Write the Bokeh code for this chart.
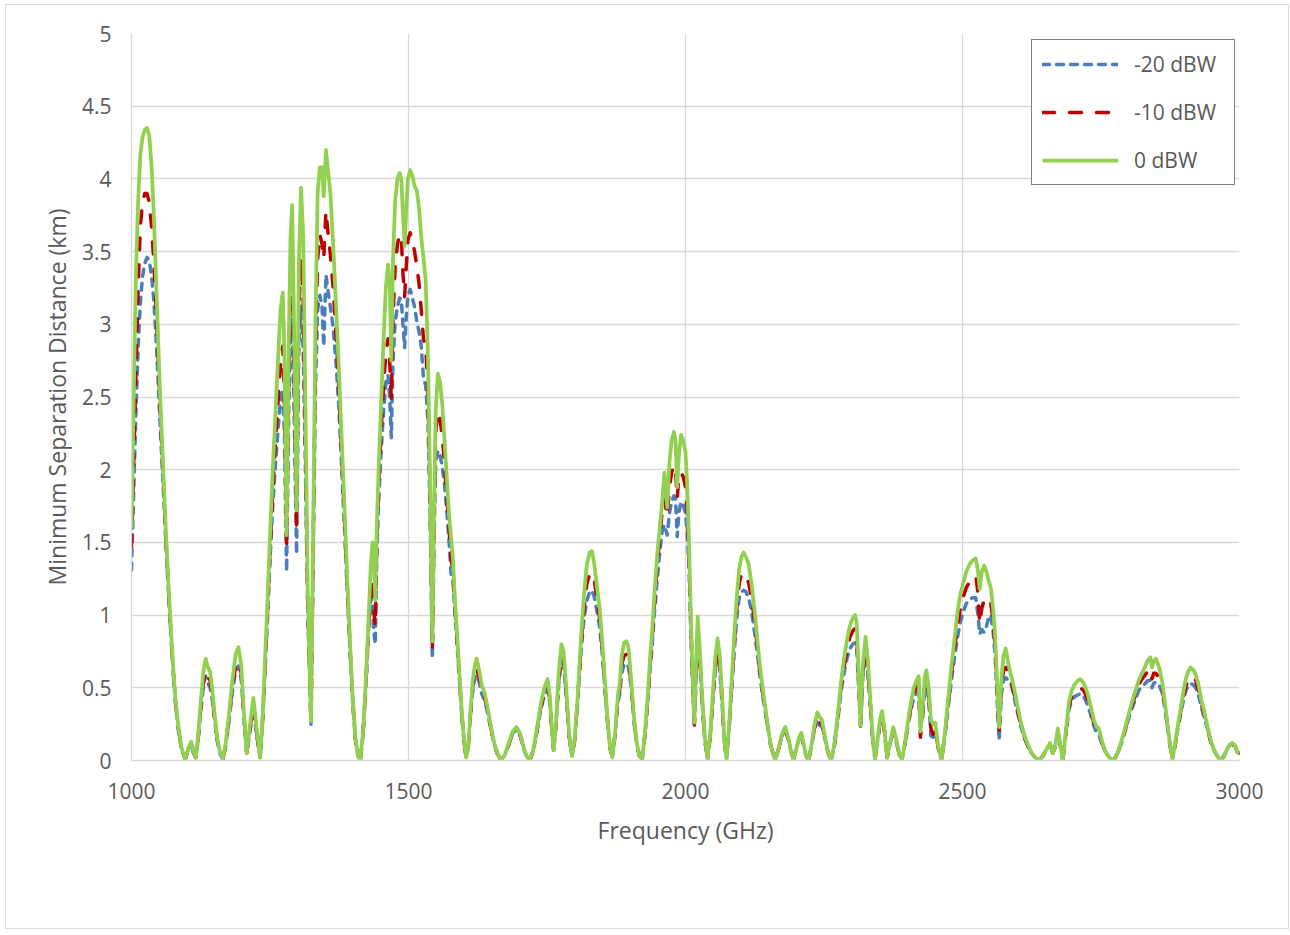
from bokeh.plotting import figure
from bokeh.models import ColumnDataSource, Range1d, FixedTicker, Legend, LegendItem
from bokeh.embed import file_html
from bokeh.resources import INLINE

# Frequency sweep (GHz)
freq_ghz = [
    1000, 1004, 1008, 1012, 1016, 1020, 1024, 1028, 1032, 1036,
    1040, 1044, 1048, 1052, 1056, 1060, 1064, 1068, 1072, 1076,
    1080, 1085, 1090, 1097, 1103, 1108, 1112, 1116, 1120, 1125,
    1130, 1134, 1138, 1142, 1146, 1150, 1155, 1160, 1165, 1170,
    1176, 1182, 1188, 1193, 1198, 1203, 1208, 1214, 1220, 1226,
    1232,
    1236, 1240, 1245, 1250, 1255, 1260, 1265, 1269, 1273, 1276,
    1280, 1284, 1287, 1290, 1293, 1298, 1302, 1306, 1310, 1314,
    1318, 1324, 1328, 1332, 1336, 1340, 1344, 1347, 1351, 1355,
    1359, 1364, 1369, 1374, 1379, 1384, 1389, 1394, 1399, 1404,
    1409, 1413,
    1418, 1423, 1428, 1432, 1435, 1437, 1440, 1443, 1447, 1451,
    1455, 1459, 1463, 1466, 1469, 1472, 1476, 1480, 1484, 1487,
    1490, 1493, 1496, 1499, 1503, 1507, 1511, 1515, 1519, 1523,
    1527, 1531, 1535, 1539, 1543, 1546, 1549, 1553, 1557, 1561,
    1565, 1569, 1573, 1577, 1580, 1584, 1588, 1592, 1596, 1600,
    1604, 1608, 1612, 1616, 1620, 1623, 1627, 1632, 1637, 1642,
    1648, 1654, 1660, 1667,
    1674, 1681, 1688, 1695, 1701, 1707, 1713, 1719, 1725, 1731,
    1738, 1745, 1751, 1755, 1759, 1762, 1766, 1771, 1776, 1780,
    1785, 1790, 1795, 1800, 1805, 1810, 1813, 1817, 1822, 1827,
    1831, 1835, 1840, 1845, 1850, 1855, 1860, 1864, 1868, 1873,
    1878, 1881, 1885, 1889, 1893, 1897, 1902, 1907, 1912, 1917,
    1922,
    1927, 1932, 1936, 1940, 1944, 1949, 1954, 1958, 1962, 1967,
    1971, 1975, 1979, 1982, 1985, 1988, 1992, 1996, 2000, 2003,
    2006, 2009, 2012, 2016, 2019, 2022, 2026, 2030, 2035, 2040,
    2045, 2050, 2054, 2058, 2062, 2066, 2070, 2074, 2079, 2084,
    2089, 2093, 2097, 2101, 2105, 2109, 2114, 2119, 2124, 2129,
    2134, 2140, 2147, 2154, 2162,
    2168, 2174, 2180, 2186, 2191, 2195, 2200, 2205, 2209, 2213,
    2217, 2222, 2228, 2233, 2238, 2242, 2246, 2251, 2257, 2263,
    2269, 2275, 2281, 2287, 2292, 2297, 2302, 2306, 2309, 2312,
    2316, 2320, 2325, 2329, 2334, 2338, 2342, 2347, 2351, 2355,
    2359, 2364, 2369, 2375, 2380, 2386, 2391, 2396, 2402, 2407,
    2412, 2417, 2421, 2424, 2428, 2432, 2435, 2439, 2443, 2447,
    2451, 2456, 2462,
    2468, 2474, 2480, 2486, 2491, 2496, 2501, 2507, 2513, 2519,
    2524, 2528, 2531, 2535, 2539, 2543, 2547, 2551, 2555, 2559,
    2563, 2566, 2570, 2574, 2578, 2583, 2588, 2593, 2598, 2605,
    2612, 2619, 2625, 2631, 2638, 2645, 2652, 2658, 2663, 2667,
    2672, 2676, 2681,
    2686, 2692, 2697, 2702, 2708, 2713, 2719, 2725, 2731, 2737,
    2741, 2746, 2752, 2758, 2765, 2773, 2781, 2788, 2794, 2800,
    2806, 2812, 2818, 2824, 2830, 2835, 2839, 2842, 2845, 2849,
    2855, 2861, 2866, 2870, 2875, 2879, 2884, 2889, 2894, 2899,
    2903, 2908, 2912, 2917, 2921, 2926, 2931, 2936, 2942, 2948,
    2954, 2960, 2966, 2972, 2978, 2983, 2987, 2992, 2996, 3000,
]

# Minimum separation distance (km) at 0 dBW
dist_0dbw = [
    1.60, 2.50, 3.35, 3.85, 4.17, 4.29, 4.34, 4.35, 4.30, 4.10,
    3.78, 3.35, 2.90, 2.48, 2.12, 1.75, 1.42, 1.12, 0.85, 0.60,
    0.40, 0.22, 0.09, 0.01, 0.09, 0.13, 0.06, 0.02, 0.16, 0.40,
    0.62, 0.70, 0.64, 0.61, 0.48, 0.32, 0.15, 0.05, 0.01, 0.12,
    0.32, 0.55, 0.73, 0.78, 0.66, 0.32, 0.05, 0.25, 0.43, 0.22,
    0.02,
    0.25, 0.60, 1.05, 1.55, 2.00, 2.40, 2.80, 3.10, 3.22, 2.80,
    1.55, 2.90, 3.60, 3.82, 3.10, 1.72, 3.40, 3.94, 3.60, 2.40,
    1.20, 0.27, 1.60, 3.00, 3.90, 4.08, 4.08, 3.88, 4.20, 4.05,
    3.90, 3.55, 3.15, 2.72, 2.25, 1.78, 1.30, 0.85, 0.45, 0.16,
    0.03, 0.00,
    0.20, 0.55, 0.98, 1.35, 1.50, 1.48, 1.10, 1.65, 2.10, 2.50,
    2.89, 3.25, 3.41, 3.30, 2.75, 3.45, 3.85, 4.00, 4.04, 4.00,
    3.75, 3.54, 3.80, 4.00, 4.06, 4.02, 3.95, 3.92, 3.80, 3.60,
    3.46, 3.30, 2.80, 1.90, 0.82, 1.70, 2.40, 2.66, 2.60, 2.45,
    2.20, 1.95, 1.70, 1.52, 1.40, 1.10, 0.85, 0.60, 0.35, 0.15,
    0.02, 0.10, 0.35, 0.55, 0.66, 0.70, 0.63, 0.52, 0.47, 0.38,
    0.25, 0.13, 0.05, 0.00,
    0.04, 0.12, 0.20, 0.23, 0.19, 0.10, 0.03, 0.00, 0.07, 0.20,
    0.37, 0.50, 0.56, 0.45, 0.20, 0.07, 0.25, 0.60, 0.80, 0.75,
    0.48, 0.18, 0.03, 0.15, 0.42, 0.75, 0.94, 1.15, 1.35, 1.43,
    1.44, 1.36, 1.20, 1.05, 0.80, 0.52, 0.25, 0.08, 0.02, 0.20,
    0.45, 0.52, 0.72, 0.81, 0.82, 0.78, 0.55, 0.30, 0.12, 0.03,
    0.01,
    0.20, 0.45, 0.70, 0.90, 1.15, 1.42, 1.62, 1.78, 1.98, 1.74,
    2.05, 2.20, 2.26, 2.20, 1.88, 2.10, 2.24, 2.20, 2.12, 1.90,
    1.55, 1.10, 0.70, 0.26, 0.65, 0.99, 0.75, 0.45, 0.15, 0.01,
    0.20, 0.50, 0.72, 0.84, 0.72, 0.45, 0.15, 0.01, 0.25, 0.60,
    0.92, 1.15, 1.32, 1.40, 1.43, 1.40, 1.35, 1.22, 1.05, 0.86,
    0.66, 0.48, 0.28, 0.10, 0.00,
    0.08, 0.18, 0.23, 0.15, 0.05, 0.01, 0.08, 0.16, 0.19, 0.12,
    0.04, 0.00, 0.12, 0.25, 0.33, 0.30, 0.28, 0.18, 0.06, 0.00,
    0.12, 0.32, 0.55, 0.72, 0.84, 0.93, 0.98, 1.00, 0.95, 0.65,
    0.24, 0.65, 0.85, 0.70, 0.40, 0.15, 0.01, 0.15, 0.28, 0.34,
    0.22, 0.02, 0.12, 0.23, 0.15, 0.04, 0.01, 0.12, 0.28, 0.40,
    0.50, 0.55, 0.58, 0.20, 0.35, 0.58, 0.62, 0.50, 0.28, 0.25,
    0.26, 0.10, 0.00,
    0.18, 0.42, 0.65, 0.85, 1.02, 1.14, 1.22, 1.30, 1.35, 1.38,
    1.39, 1.30, 1.18, 1.30, 1.34, 1.30, 1.24, 1.19, 1.05, 0.85,
    0.50, 0.23, 0.55, 0.72, 0.77, 0.66, 0.58, 0.50, 0.40, 0.27,
    0.17, 0.10, 0.05, 0.02, 0.00, 0.03, 0.08, 0.12, 0.05, 0.09,
    0.22, 0.12, 0.00,
    0.18, 0.40, 0.48, 0.52, 0.55, 0.56, 0.53, 0.47, 0.38, 0.28,
    0.24, 0.22, 0.13, 0.06, 0.02, 0.00, 0.06, 0.15, 0.23, 0.32,
    0.40, 0.48, 0.55, 0.60, 0.65, 0.69, 0.71, 0.64, 0.68, 0.70,
    0.64, 0.53, 0.38, 0.25, 0.10, 0.01, 0.12, 0.25, 0.36, 0.48,
    0.56, 0.62, 0.64, 0.62, 0.59, 0.52, 0.42, 0.34, 0.24, 0.14,
    0.07, 0.03, 0.00, 0.03, 0.08, 0.11, 0.12, 0.10, 0.06, 0.05,
]

# Minimum separation distance (km) at -10 dBW
dist_m10dbw = [
    1.47, 2.05, 2.65, 3.25, 3.68, 3.84, 3.90, 3.90, 3.84, 3.68,
    3.45, 3.15, 2.78, 2.40, 2.05, 1.70, 1.38, 1.09, 0.82, 0.58,
    0.38, 0.21, 0.09, 0.01, 0.08, 0.12, 0.06, 0.02, 0.14, 0.36,
    0.55, 0.62, 0.57, 0.55, 0.44, 0.29, 0.14, 0.05, 0.01, 0.11,
    0.29, 0.50, 0.65, 0.68, 0.60, 0.30, 0.05, 0.22, 0.38, 0.19,
    0.02,
    0.23, 0.56, 0.98, 1.45, 1.85, 2.20, 2.50, 2.72, 2.85, 2.50,
    1.48, 2.70, 3.25, 3.40, 2.80, 1.60, 3.10, 3.45, 3.15, 2.15,
    1.10, 0.25, 1.50, 2.80, 3.45, 3.62, 3.55, 3.45, 3.78, 3.62,
    3.48, 3.25, 2.95, 2.58, 2.15, 1.70, 1.25, 0.82, 0.43, 0.15,
    0.03, 0.00,
    0.19, 0.52, 0.93, 1.20, 1.25, 1.05, 0.92, 1.55, 1.98, 2.30,
    2.58, 2.80, 2.90, 2.75, 2.48, 3.05, 3.40, 3.55, 3.62, 3.60,
    3.35, 3.19, 3.40, 3.58, 3.63, 3.58, 3.50, 3.40, 3.28, 3.10,
    2.90, 2.85, 2.55, 1.80, 0.76, 1.60, 2.25, 2.40, 2.35, 2.22,
    2.05, 1.82, 1.60, 1.38, 1.32, 1.05, 0.81, 0.57, 0.33, 0.14,
    0.02, 0.10, 0.33, 0.51, 0.61, 0.63, 0.58, 0.49, 0.44, 0.36,
    0.24, 0.12, 0.05, 0.00,
    0.04, 0.11, 0.19, 0.22, 0.18, 0.10, 0.03, 0.00, 0.07, 0.19,
    0.35, 0.47, 0.52, 0.42, 0.19, 0.07, 0.24, 0.55, 0.73, 0.70,
    0.45, 0.17, 0.03, 0.14, 0.40, 0.70, 0.87, 1.05, 1.22, 1.28,
    1.29, 1.25, 1.12, 0.98, 0.76, 0.49, 0.24, 0.08, 0.02, 0.19,
    0.42, 0.48, 0.66, 0.72, 0.73, 0.70, 0.52, 0.28, 0.11, 0.03,
    0.01,
    0.19, 0.42, 0.65, 0.85, 1.08, 1.35, 1.55, 1.72, 1.80, 1.68,
    1.88, 1.98, 2.03, 2.02, 1.80, 1.95, 1.98, 1.95, 1.88, 1.72,
    1.45, 1.02, 0.65, 0.25, 0.60, 0.90, 0.70, 0.42, 0.14, 0.01,
    0.19, 0.46, 0.66, 0.76, 0.66, 0.42, 0.14, 0.01, 0.24, 0.56,
    0.86, 1.07, 1.22, 1.28, 1.29, 1.27, 1.22, 1.12, 0.98, 0.81,
    0.62, 0.45, 0.27, 0.10, 0.00,
    0.08, 0.17, 0.22, 0.14, 0.05, 0.01, 0.08, 0.15, 0.18, 0.11,
    0.04, 0.00, 0.11, 0.23, 0.30, 0.26, 0.25, 0.17, 0.06, 0.00,
    0.11, 0.30, 0.51, 0.66, 0.77, 0.85, 0.89, 0.91, 0.86, 0.60,
    0.24, 0.60, 0.77, 0.64, 0.37, 0.14, 0.01, 0.14, 0.26, 0.31,
    0.21, 0.02, 0.11, 0.21, 0.14, 0.04, 0.01, 0.11, 0.26, 0.37,
    0.46, 0.51, 0.52, 0.16, 0.30, 0.52, 0.55, 0.46, 0.22, 0.18,
    0.22, 0.09, 0.00,
    0.17, 0.39, 0.60, 0.78, 0.93, 1.04, 1.12, 1.19, 1.23, 1.26,
    1.27, 1.15, 0.94, 1.05, 1.10, 1.12, 1.12, 1.08, 0.97, 0.78,
    0.45, 0.18, 0.50, 0.62, 0.64, 0.60, 0.55, 0.46, 0.37, 0.25,
    0.16, 0.09, 0.05, 0.02, 0.00, 0.03, 0.08, 0.11, 0.05, 0.09,
    0.20, 0.11, 0.00,
    0.17, 0.37, 0.44, 0.47, 0.49, 0.50, 0.48, 0.43, 0.35, 0.26,
    0.23, 0.20, 0.12, 0.06, 0.02, 0.00, 0.06, 0.14, 0.22, 0.30,
    0.38, 0.45, 0.52, 0.56, 0.59, 0.62, 0.63, 0.56, 0.60, 0.60,
    0.57, 0.49, 0.36, 0.24, 0.10, 0.01, 0.11, 0.24, 0.34, 0.44,
    0.51, 0.56, 0.58, 0.57, 0.55, 0.48, 0.39, 0.32, 0.23, 0.13,
    0.07, 0.03, 0.00, 0.03, 0.08, 0.11, 0.12, 0.10, 0.06, 0.05,
]

# Minimum separation distance (km) at -20 dBW
dist_m20dbw = [
    1.31, 1.85, 2.40, 2.85, 3.15, 3.33, 3.42, 3.46, 3.44, 3.34,
    3.18, 2.93, 2.62, 2.28, 1.98, 1.66, 1.35, 1.07, 0.80, 0.57,
    0.37, 0.20, 0.08, 0.01, 0.08, 0.11, 0.05, 0.02, 0.13, 0.34,
    0.52, 0.58, 0.53, 0.50, 0.41, 0.28, 0.13, 0.04, 0.01, 0.10,
    0.27, 0.47, 0.62, 0.65, 0.57, 0.28, 0.05, 0.20, 0.36, 0.17,
    0.02,
    0.22, 0.53, 0.93, 1.38, 1.75, 2.05, 2.30, 2.48, 2.55, 2.25,
    1.30, 2.45, 2.90, 3.05, 2.50, 1.42, 2.85, 3.13, 2.82, 2.00,
    1.05, 0.25, 1.40, 2.55, 3.10, 3.20, 3.12, 2.85, 3.34, 3.22,
    3.12, 2.98, 2.75, 2.45, 2.05, 1.63, 1.20, 0.79, 0.42, 0.15,
    0.03, 0.00,
    0.18, 0.50, 0.90, 1.12, 1.08, 0.90, 0.80, 1.45, 1.85, 2.15,
    2.40, 2.60, 2.65, 2.50, 2.22, 2.75, 3.02, 3.12, 3.18, 3.17,
    3.00, 2.84, 3.05, 3.20, 3.24, 3.18, 3.12, 3.02, 2.95, 2.85,
    2.63, 2.58, 2.35, 1.70, 0.70, 1.50, 2.05, 2.13, 2.10, 2.02,
    1.90, 1.72, 1.52, 1.28, 1.25, 1.00, 0.78, 0.55, 0.32, 0.14,
    0.02, 0.09, 0.31, 0.48, 0.57, 0.59, 0.55, 0.46, 0.42, 0.34,
    0.23, 0.12, 0.05, 0.00,
    0.04, 0.11, 0.19, 0.21, 0.18, 0.09, 0.03, 0.00, 0.06, 0.18,
    0.33, 0.45, 0.49, 0.40, 0.18, 0.07, 0.23, 0.52, 0.68, 0.65,
    0.43, 0.16, 0.03, 0.14, 0.38, 0.66, 0.82, 0.98, 1.10, 1.16,
    1.17, 1.13, 1.03, 0.92, 0.72, 0.47, 0.23, 0.08, 0.02, 0.18,
    0.40, 0.45, 0.60, 0.66, 0.64, 0.65, 0.50, 0.27, 0.11, 0.03,
    0.01,
    0.18, 0.40, 0.62, 0.80, 1.02, 1.25, 1.45, 1.58, 1.62, 1.55,
    1.70, 1.78, 1.82, 1.80, 1.54, 1.70, 1.78, 1.76, 1.70, 1.58,
    1.35, 0.96, 0.62, 0.23, 0.57, 0.85, 0.66, 0.40, 0.13, 0.01,
    0.18, 0.44, 0.63, 0.72, 0.62, 0.40, 0.14, 0.01, 0.23, 0.53,
    0.80, 1.00, 1.12, 1.16, 1.17, 1.16, 1.12, 1.03, 0.90, 0.76,
    0.59, 0.43, 0.26, 0.10, 0.00,
    0.08, 0.17, 0.21, 0.14, 0.05, 0.01, 0.08, 0.15, 0.17, 0.11,
    0.04, 0.00, 0.11, 0.22, 0.28, 0.24, 0.24, 0.16, 0.06, 0.00,
    0.11, 0.28, 0.48, 0.62, 0.71, 0.77, 0.80, 0.81, 0.78, 0.55,
    0.22, 0.57, 0.72, 0.60, 0.35, 0.14, 0.01, 0.14, 0.25, 0.30,
    0.20, 0.02, 0.11, 0.20, 0.13, 0.04, 0.01, 0.11, 0.25, 0.35,
    0.43, 0.47, 0.47, 0.22, 0.32, 0.48, 0.50, 0.42, 0.17, 0.16,
    0.20, 0.09, 0.00,
    0.16, 0.36, 0.55, 0.72, 0.85, 0.95, 1.02, 1.08, 1.11, 1.12,
    1.12, 1.00, 0.87, 0.90, 0.88, 0.92, 0.98, 1.00, 0.90, 0.72,
    0.38, 0.14, 0.45, 0.55, 0.57, 0.55, 0.52, 0.44, 0.35, 0.24,
    0.15, 0.09, 0.05, 0.02, 0.00, 0.03, 0.08, 0.11, 0.05, 0.09,
    0.19, 0.11, 0.00,
    0.16, 0.35, 0.41, 0.44, 0.45, 0.46, 0.44, 0.39, 0.32, 0.24,
    0.20, 0.18, 0.11, 0.06, 0.02, 0.00, 0.06, 0.13, 0.21, 0.29,
    0.36, 0.42, 0.48, 0.51, 0.53, 0.55, 0.55, 0.50, 0.53, 0.54,
    0.52, 0.46, 0.34, 0.23, 0.09, 0.01, 0.11, 0.23, 0.32, 0.42,
    0.48, 0.52, 0.53, 0.52, 0.50, 0.45, 0.37, 0.30, 0.22, 0.13,
    0.07, 0.03, 0.00, 0.03, 0.08, 0.11, 0.11, 0.09, 0.06, 0.05,
]

series_labels = ["-20 dBW", "-10 dBW", "0 dBW"]
x_ticks = [1000, 1500, 2000, 2500, 3000]
y_ticks = [0, 0.5, 1, 1.5, 2, 2.5, 3, 3.5, 4, 4.5, 5]
y_tick_labels = ["0", "0.5", "1", "1.5", "2", "2.5", "3", "3.5", "4", "4.5", "5"]

assert len(freq_ghz) == len(dist_0dbw) == len(dist_m10dbw) == len(dist_m20dbw)

FONT = "Open Sans"
TEXT = "#595959"
GRID = "#D9D9D9"

source = ColumnDataSource(data=dict(
    freq=freq_ghz, p0=dist_0dbw, m10=dist_m10dbw, m20=dist_m20dbw,
))

p = figure(
    width=1284, height=925,
    x_range=Range1d(1000, 3000), y_range=Range1d(0, 5),
    output_backend="svg", toolbar_location=None,
    min_border_left=125, min_border_right=51,
    min_border_top=28, min_border_bottom=170,
    background_fill_color="white", border_fill_color="white",
)
p.styles = {"margin-left": "5px", "margin-top": "4px",
            "border": "1px solid #D9D9D9"}
p.outline_line_color = None

# grid
p.xgrid.ticker = FixedTicker(ticks=x_ticks)
p.ygrid.ticker = FixedTicker(ticks=y_ticks)
for g in (p.xgrid, p.ygrid):
    g.grid_line_color = GRID
    g.grid_line_width = 1.3

# axes
p.xaxis.ticker = FixedTicker(ticks=x_ticks)
p.yaxis.ticker = FixedTicker(ticks=y_ticks)
p.yaxis.major_label_overrides = {t: s for t, s in zip(y_ticks, y_tick_labels)}
p.xaxis.major_label_overrides = {t: str(t) for t in x_ticks}
for ax in (p.xaxis, p.yaxis):
    ax.axis_line_color = GRID
    ax.axis_line_width = 1.3
    ax.major_tick_line_color = None
    ax.minor_tick_line_color = None
    ax.major_label_text_font = FONT
    ax.major_label_text_font_size = "21px"
    ax.major_label_text_color = TEXT
    ax.axis_label_text_font = FONT
    ax.axis_label_text_font_size = "23px"
    ax.axis_label_text_font_style = "normal"
    ax.axis_label_text_color = TEXT
p.xaxis.axis_label = "Frequency (GHz)"
p.yaxis.axis_label = "Minimum Separation Distance (km)"
p.xaxis.major_label_standoff = 16
p.yaxis.major_label_standoff = 14
p.xaxis.axis_label_standoff = 12
p.yaxis.axis_label_standoff = 6

r20 = p.line("freq", "m20", source=source, line_color="#4A7EBB", line_width=3.5,
             line_dash="7 7", line_cap="round", line_join="round")
r10 = p.line("freq", "m10", source=source, line_color="#C00000", line_width=3.5,
             line_dash="12 15", line_cap="round", line_join="round")
r0 = p.line("freq", "p0", source=source, line_color="#92D050", line_width=3.75,
            line_join="round")

legend = Legend(
    items=[LegendItem(label=series_labels[0], renderers=[r20]),
           LegendItem(label=series_labels[1], renderers=[r10]),
           LegendItem(label=series_labels[2], renderers=[r0])],
    location=(900, 575),
    orientation="vertical",
    padding=10, spacing=20, margin=0,
    glyph_width=76, glyph_height=20, label_standoff=16, label_width=90,
    label_text_font=FONT, label_text_font_size="21px", label_text_color=TEXT,
    border_line_color="black", border_line_width=1.5,
    background_fill_color="white", background_fill_alpha=1.0,
)
p.add_layout(legend, "center")

open("out.html", "w").write(file_html(p, INLINE))
